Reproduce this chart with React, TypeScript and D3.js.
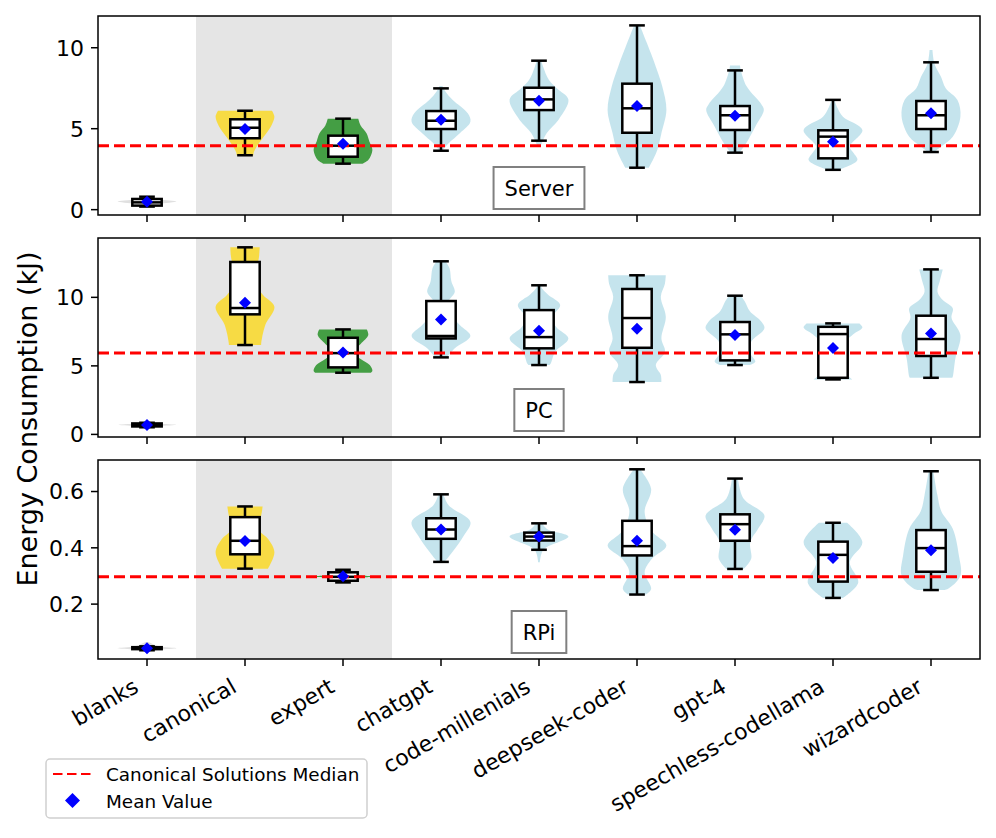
import * as d3 from 'd3';
import { useRef, useEffect } from 'react';

const categories = [
  'blanks', 'canonical', 'expert', 'chatgpt', 'code-millenials',
  'deepseek-coder', 'gpt-4', 'speechless-codellama', 'wizardcoder',
];
const violinColors = [
  'lightgray', 'gold', 'green', 'lightblue', 'lightblue',
  'lightblue', 'lightblue', 'lightblue', 'lightblue',
];
const panelNames = ['Server', 'PC', 'RPi'];
const medianLines = [3.95, 5.93, 0.297];
const yDomains: [number, number][] = [[-0.33, 11.96], [-0.19, 14.33], [0.005, 0.712]];
const yTicks = [[0, 5, 10], [0, 5, 10], [0.2, 0.4, 0.6]];
const yTickLabels = [['0', '5', '10'], ['0', '5', '10'], ['0.2', '0.4', '0.6']];

// [lower whisker, q1, median, q3, upper whisker, mean]
const serverStats = [
  [0.19, 0.25, 0.45, 0.66, 0.8, 0.49],
  [3.36, 4.41, 5.06, 5.58, 6.11, 4.98],
  [2.84, 3.27, 3.95, 4.57, 5.62, 4.07],
  [3.64, 4.98, 5.49, 6.09, 7.49, 5.56],
  [4.26, 6.15, 6.81, 7.53, 9.2, 6.73],
  [2.59, 4.75, 6.26, 7.78, 11.38, 6.4],
  [3.52, 4.92, 5.83, 6.4, 8.6, 5.8],
  [2.46, 3.17, 4.51, 4.9, 6.78, 4.2],
  [3.56, 4.98, 5.83, 6.71, 9.1, 5.95],
];
const pcStats = [
  [0.52, 0.58, 0.68, 0.8, 0.85, 0.68],
  [6.52, 8.76, 9.22, 12.58, 13.65, 9.61],
  [4.5, 4.89, 5.93, 7.05, 7.66, 5.98],
  [5.62, 7.0, 7.18, 9.73, 12.63, 8.39],
  [5.06, 6.28, 7.1, 9.07, 10.88, 7.56],
  [3.82, 6.32, 8.49, 10.61, 11.61, 7.71],
  [5.06, 5.4, 7.3, 8.2, 10.12, 7.25],
  [4.01, 4.13, 7.32, 7.85, 8.1, 6.3],
  [4.13, 5.72, 6.96, 8.66, 12.04, 7.37],
];
const rpiStats = [
  [0.036, 0.04, 0.043, 0.047, 0.05, 0.043],
  [0.326, 0.377, 0.425, 0.509, 0.547, 0.424],
  [0.277, 0.283, 0.297, 0.313, 0.322, 0.299],
  [0.35, 0.432, 0.465, 0.505, 0.59, 0.465],
  [0.393, 0.426, 0.44, 0.454, 0.487, 0.44],
  [0.234, 0.373, 0.406, 0.496, 0.679, 0.425],
  [0.325, 0.425, 0.484, 0.519, 0.646, 0.464],
  [0.222, 0.28, 0.375, 0.422, 0.489, 0.364],
  [0.25, 0.315, 0.399, 0.463, 0.672, 0.391],
];

// violin outlines: [value, relative width]
const serverViolins = [
  [[0.2, 0.05], [0.35, 0.4], [0.5, 1], [0.62, 0.4], [0.8, 0.05]],
  [[3.36, 0.29], [3.48, 0.29], [3.9, 0.4], [4.7, 0.72], [5.2, 0.9], [5.74, 1], [6.11, 0.92]],
  [[2.84, 0.66], [3.07, 0.86], [3.69, 1], [4.2, 0.9], [4.72, 0.8], [5.2, 0.6], [5.62, 0.52]],
  [[3.64, 0.05], [4.1, 0.26], [4.72, 0.64], [5.43, 1], [5.95, 0.91], [6.77, 0.4], [7.3, 0.15], [7.64, 0.05]],
  [[3.9, 0.05], [4.72, 0.26], [5.54, 0.66], [6.8, 1], [7.5, 0.6], [8.0, 0.34], [8.83, 0.14], [9.2, 0.08]],
  [[2.59, 0.4], [2.86, 0.48], [3.69, 0.69], [4.72, 0.83], [6.15, 1], [7.6, 0.86], [8.83, 0.64], [10.27, 0.34], [11.38, 0.1]],
  [[3.52, 0.15], [4.1, 0.38], [5.12, 0.69], [6.15, 0.98], [6.5, 0.9], [7.6, 0.4], [8.6, 0.2], [8.91, 0.17]],
  [[2.46, 0.15], [2.56, 0.34], [3.07, 0.83], [3.5, 0.7], [3.89, 0.57], [4.92, 1], [5.74, 0.34], [6.3, 0.15], [6.78, 0.05]],
  [[3.56, 0.1], [3.89, 0.34], [4.5, 0.74], [5.74, 1], [6.77, 0.9], [7.5, 0.5], [8.21, 0.34], [9.0, 0.12], [9.86, 0.05]],
];
const pcViolins = [
  [[0.5, 0.05], [0.6, 0.4], [0.7, 1], [0.8, 0.4], [0.9, 0.05]],
  [[6.52, 0.55], [6.64, 0.55], [7.98, 0.69], [9.31, 1], [10.2, 0.6], [11.39, 0.26], [12.3, 0.4], [12.85, 0.47], [13.65, 0.5]],
  [[4.5, 0.95], [4.64, 1], [5.06, 0.91], [5.5, 0.6], [6.03, 0.34], [6.6, 0.6], [7.25, 0.86], [7.66, 0.81]],
  [[5.62, 0.2], [6.28, 0.47], [7.18, 1], [7.98, 0.64], [8.8, 0.3], [9.44, 0.17], [10.0, 0.35], [10.41, 0.47], [11.2, 0.35], [12.12, 0.29], [12.63, 0.15]],
  [[5.06, 0.35], [5.18, 0.4], [6.03, 0.55], [7.0, 1], [7.8, 0.6], [8.47, 0.43], [9.44, 0.72], [10.2, 0.3], [10.66, 0.1], [10.88, 0.05]],
  [[3.82, 0.83], [4.33, 0.81], [5.06, 0.64], [6.03, 0.95], [7.0, 0.83], [8.58, 0.98], [10.04, 0.81], [11.0, 0.95], [11.61, 0.98]],
  [[5.06, 0.5], [5.3, 0.69], [6.0, 0.5], [6.76, 0.55], [7.74, 1], [8.22, 0.9], [9.0, 0.5], [9.68, 0.34], [10.12, 0.2]],
  [[4.01, 0.66], [4.3, 0.5], [5.0, 0.3], [6.0, 0.3], [6.8, 0.45], [7.32, 0.7], [7.8, 1], [8.1, 0.9]],
  [[4.13, 0.72], [4.2, 0.74], [5.55, 0.83], [7.25, 1], [8.5, 0.7], [9.2, 0.74], [9.8, 0.4], [10.41, 0.22], [11.2, 0.3], [12.04, 0.4]],
];
const rpiViolins = [
  [[0.03, 0.05], [0.038, 0.4], [0.043, 1], [0.05, 0.4], [0.065, 0.05]],
  [[0.326, 0.78], [0.384, 1], [0.43, 0.8], [0.46, 0.5], [0.48, 0.45], [0.515, 0.55], [0.547, 0.6]],
  [[0.277, 0.05], [0.29, 0.3], [0.298, 1], [0.306, 0.3], [0.322, 0.05]],
  [[0.35, 0.12], [0.384, 0.38], [0.444, 0.78], [0.492, 1], [0.551, 0.26], [0.59, 0.08]],
  [[0.349, 0.03], [0.393, 0.15], [0.44, 1], [0.465, 0.3], [0.487, 0.1]],
  [[0.234, 0.3], [0.254, 0.48], [0.313, 0.26], [0.36, 0.5], [0.408, 1], [0.46, 0.5], [0.527, 0.26], [0.61, 0.48], [0.679, 0.1]],
  [[0.325, 0.3], [0.361, 0.55], [0.42, 0.52], [0.47, 0.8], [0.515, 1], [0.575, 0.29], [0.646, 0.1]],
  [[0.222, 0.34], [0.277, 0.86], [0.349, 0.57], [0.42, 1], [0.489, 0.48]],
  [[0.25, 0.4], [0.254, 0.57], [0.301, 1], [0.372, 0.95], [0.468, 0.74], [0.53, 0.35], [0.587, 0.22], [0.672, 0.08]],
];

const allStats = [serverStats, pcStats, rpiStats];
const allViolins = [serverViolins, pcViolins, rpiViolins];

const W = 996;
const H = 838;
const left = 98;
const right = 980;
const panelTops = [16, 238, 460];
const panelH = 199;
const FONT = 'DejaVu Sans, sans-serif';

const App = () => {
  const svgRef = useRef<SVGSVGElement | null>(null);

  useEffect(() => {
    const svg = d3.select(svgRef.current);
    svg.selectAll('*').remove();

    const x = d3.scaleLinear().domain([0.5, 9.5]).range([left, right]);
    const violinHalf = x(1.3) - x(1);
    const boxHalf = x(1.15) - x(1);
    const capHalf = x(1.08) - x(1);

    panelNames.forEach((name, pi) => {
      const top = panelTops[pi];
      const bottom = top + panelH;
      const y = d3.scaleLinear().domain(yDomains[pi]).range([bottom, top]);
      const g = svg.append('g');

      // shaded reference group
      g.append('rect')
        .attr('x', x(1.5))
        .attr('y', top)
        .attr('width', x(3.5) - x(1.5))
        .attr('height', panelH)
        .attr('fill', '#e5e5e5');

      // violins
      allViolins[pi].forEach((prof, i) => {
        const cx = x(i + 1);
        const area = d3.area<number[]>()
          .y(d => y(d[0]))
          .x0(d => cx - d[1] * violinHalf)
          .x1(d => cx + d[1] * violinHalf)
          .curve(d3.curveCatmullRom);
        g.append('path')
          .datum(prof)
          .attr('d', area)
          .attr('fill', violinColors[i])
          .attr('fill-opacity', 0.7);
      });

      // boxes
      allStats[pi].forEach((s, i) => {
        const cx = x(i + 1);
        const [lo, q1, med, q3, hi] = s;
        const bx = g.append('g').attr('stroke', 'black').attr('stroke-width', 2.5);
        bx.append('line').attr('x1', cx).attr('x2', cx).attr('y1', y(lo)).attr('y2', y(q1));
        bx.append('line').attr('x1', cx).attr('x2', cx).attr('y1', y(q3)).attr('y2', y(hi));
        bx.append('line').attr('x1', cx - capHalf).attr('x2', cx + capHalf).attr('y1', y(lo)).attr('y2', y(lo));
        bx.append('line').attr('x1', cx - capHalf).attr('x2', cx + capHalf).attr('y1', y(hi)).attr('y2', y(hi));
        bx.append('rect')
          .attr('x', cx - boxHalf)
          .attr('y', y(q3))
          .attr('width', boxHalf * 2)
          .attr('height', Math.max(y(q1) - y(q3), 0.5))
          .attr('fill', 'white');
        bx.append('line').attr('x1', cx - boxHalf).attr('x2', cx + boxHalf).attr('y1', y(med)).attr('y2', y(med));
      });

      // canonical median
      g.append('line')
        .attr('x1', left)
        .attr('x2', right)
        .attr('y1', y(medianLines[pi]))
        .attr('y2', y(medianLines[pi]))
        .attr('stroke', 'red')
        .attr('stroke-width', 3)
        .attr('stroke-dasharray', '11,5');

      // means
      allStats[pi].forEach((s, i) => {
        const cx = x(i + 1);
        const cy = y(s[5]);
        const r = 6;
        g.append('path')
          .attr('d', `M${cx},${cy - r}L${cx + r},${cy}L${cx},${cy + r}L${cx - r},${cy}Z`)
          .attr('fill', 'blue');
      });

      // frame
      g.append('rect')
        .attr('x', left)
        .attr('y', top)
        .attr('width', right - left)
        .attr('height', panelH)
        .attr('fill', 'none')
        .attr('stroke', 'black')
        .attr('stroke-width', 1.5);

      // y ticks
      yTicks[pi].forEach((t, k) => {
        g.append('line')
          .attr('x1', left - 7)
          .attr('x2', left)
          .attr('y1', y(t))
          .attr('y2', y(t))
          .attr('stroke', 'black')
          .attr('stroke-width', 1.5);
        g.append('text')
          .attr('x', left - 14)
          .attr('y', y(t))
          .attr('dy', '0.36em')
          .attr('text-anchor', 'end')
          .attr('font-family', FONT)
          .attr('font-size', 22)
          .text(yTickLabels[pi][k]);
      });

      // x ticks
      categories.forEach((c, i) => {
        const cx = x(i + 1);
        g.append('line')
          .attr('x1', cx)
          .attr('x2', cx)
          .attr('y1', bottom)
          .attr('y2', bottom + 7)
          .attr('stroke', 'black')
          .attr('stroke-width', 1.5);
        if (pi === 2) {
          g.append('text')
            .attr('transform', `translate(${cx - 7},${bottom + 32}) rotate(-30)`)
            .attr('text-anchor', 'end')
            .attr('font-family', FONT)
            .attr('font-size', 22)
            .text(c);
        }
      });

      // panel label
      const lbl = g.append('g');
      const txt = lbl.append('text')
        .attr('x', x(5))
        .attr('y', bottom - 27)
        .attr('dy', '0.36em')
        .attr('text-anchor', 'middle')
        .attr('font-family', FONT)
        .attr('font-size', 21)
        .text(name);
      const tw = (txt.node() as SVGTextElement).getComputedTextLength();
      lbl.insert('rect', 'text')
        .attr('x', x(5) - tw / 2 - 11)
        .attr('y', bottom - 48)
        .attr('width', tw + 22)
        .attr('height', 42)
        .attr('fill', 'white')
        .attr('stroke', '#808080')
        .attr('stroke-width', 2);
    });

    // y axis title
    svg.append('text')
      .attr('transform', `translate(37,419) rotate(-90)`)
      .attr('text-anchor', 'middle')
      .attr('font-family', FONT)
      .attr('font-size', 27)
      .text('Energy Consumption (kJ)');

    // legend
    const lg = svg.append('g');
    lg.append('rect')
      .attr('x', 46)
      .attr('y', 759)
      .attr('width', 321)
      .attr('height', 59)
      .attr('rx', 4)
      .attr('fill', 'white')
      .attr('stroke', '#d0d0d0')
      .attr('stroke-width', 1.5);
    lg.append('line')
      .attr('x1', 53)
      .attr('x2', 91)
      .attr('y1', 774)
      .attr('y2', 774)
      .attr('stroke', 'red')
      .attr('stroke-width', 2)
      .attr('stroke-dasharray', '9.5,4.5');
    lg.append('path')
      .attr('d', 'M72.5,793L80,800.5L72.5,808L65,800.5Z')
      .attr('fill', 'blue');
    const legendLabels = ['Canonical Solutions Median', 'Mean Value'];
    legendLabels.forEach((t, k) => {
      lg.append('text')
        .attr('x', 106)
        .attr('y', 774 + k * 27)
        .attr('dy', '0.36em')
        .attr('font-family', FONT)
        .attr('font-size', 18.4)
        .text(t);
    });
  }, []);

  return (
    <svg
      ref={svgRef}
      width={W}
      height={H}
      style={{ position: 'absolute', left: 0, top: 0, background: 'white' }}
    />
  );
};

export default App;
